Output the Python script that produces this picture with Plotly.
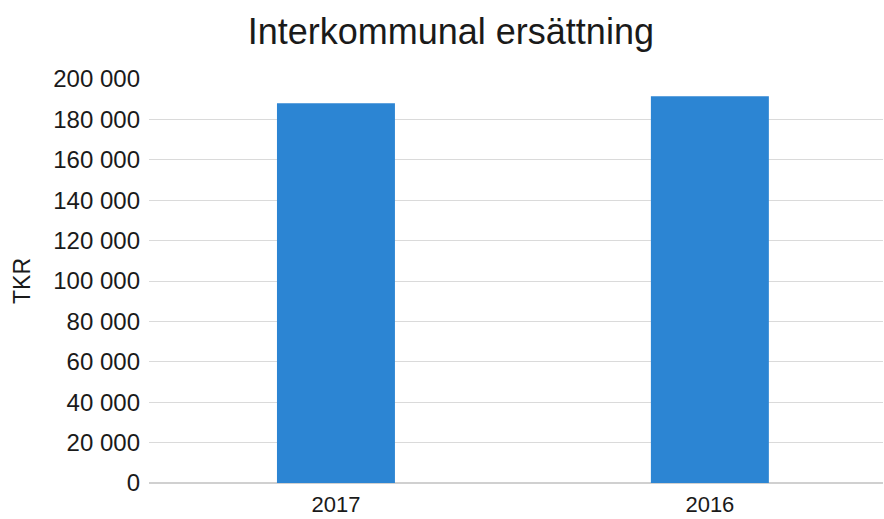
import plotly.graph_objects as go

categories = ["2017", "2016"]
values = [188000, 191500]
tick_vals = list(range(0, 200001, 20000))
tick_text = ["0" if v == 0 else f"{v // 1000} 000" for v in tick_vals]

fig = go.Figure(go.Bar(
    x=[0, 1], y=values, width=0.3155,
    marker=dict(color="#2C85D3", line=dict(width=0)),
))

fig.update_layout(
    width=884, height=519,
    margin=dict(l=149, r=1, t=79, b=36, autoexpand=False),
    paper_bgcolor="white", plot_bgcolor="white",
    font=dict(family="Liberation Sans, Arial, sans-serif", color="#1a1a1a"),
    title=dict(text="Interkommunal ersättning", x=0.51, xanchor="center",
               y=0.94, yanchor="middle", font=dict(size=36, color="#1a1a1a")),
    showlegend=False,
    xaxis=dict(range=[-0.5, 1.463], tickvals=[0, 1], ticktext=categories,
               tickfont=dict(size=22), showgrid=False, zeroline=False,
               showline=False, ticks="", ticklabelstandoff=6, automargin=False),
    yaxis=dict(range=[0, 200000], tickvals=tick_vals, ticktext=tick_text,
               tickfont=dict(size=24), showgrid=True, gridcolor="#dadada",
               gridwidth=1, zeroline=True, zerolinecolor="#d0d0d0",
               showline=False, ticks="", ticklabelstandoff=8, automargin=False,
               title=dict(text="TKR", font=dict(size=23), standoff=16)),
)

fig.write_html("out.html")
